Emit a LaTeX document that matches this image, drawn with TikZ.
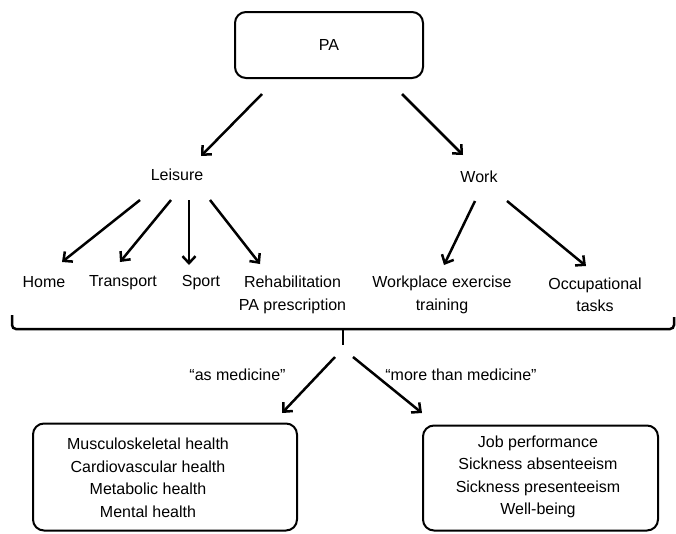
\documentclass[tikz,border=0pt]{standalone}
\usepackage{fontspec}
\setmainfont{Liberation Sans}
\usetikzlibrary{arrows.meta}
\begin{document}
\begin{tikzpicture}[x=1pt,y=-1pt,
  every node/.style={font=\fontsize{16}{22.5}\selectfont, inner sep=0pt},
  txt/.style={align=center},
  rbox/.style={draw, line width=2pt, rounded corners=11pt},
  arr/.style={line width=2.5pt, -{Straight Barb[length=7pt,width=13pt]}},
  bracestyle/.style={line width=2.5pt, rounded corners=4pt}]
\useasboundingbox (0,0) rectangle (676,533);
% top
\node[rbox, minimum width=188pt, minimum height=66pt] (pa) at (329,45) {PA};
\node[txt] (leisure) at (177,174.5) {Leisure};
\node[txt] (work) at (479,177) {Work};
% second row
\node[txt] (home) at (44,282) {Home};
\node[txt] (transport) at (123,282.5) {Transport};
\node[txt] (sport) at (201,282.5) {Sport};
\node[txt] (rehab) at (292.5,295) {Rehabilitation\\PA prescription};
\node[txt] (workplace) at (442,295) {Workplace exercise\\training};
\node[txt] (occ) at (595,295) {Occupational\\tasks};
% bottom boxes
\node[rbox, minimum width=264pt, minimum height=107pt] (lbox) at (165,477) {};
\node[txt] (ltext) at (148,478) {Musculoskeletal health\\Cardiovascular health\\Metabolic health\\Mental health};
\node[rbox, minimum width=235pt, minimum height=105pt] (rbox) at (540.5,478) {};
\node[txt] (rtext) at (538,477) {Job performance\\Sickness absenteeism\\Sickness presenteeism\\Well-being};
% labels
\node[txt] (asmed) at (237.5,375) {“as medicine”};
\node[txt] (moremed) at (461,375) {“more than medicine”};
% arrow end points
\coordinate (pa-l) at (262,94);   \coordinate (leisure-in) at (201,156);
\coordinate (pa-r) at (402,94);   \coordinate (work-in) at (463,155);
\coordinate (le-1) at (140,200);  \coordinate (home-in) at (62,262);
\coordinate (le-2) at (171,200);  \coordinate (transport-in) at (120,262);
\coordinate (le-3) at (189,200);  \coordinate (sport-in) at (189,265);
\coordinate (le-4) at (210,200);  \coordinate (rehab-in) at (260,264);
\coordinate (wo-1) at (475,201);  \coordinate (workplace-in) at (444,265);
\coordinate (wo-2) at (507,201);  \coordinate (occ-in) at (586,266);
\coordinate (tip) at (343,345);
\coordinate (tip-l) at (335,357); \coordinate (lbox-in) at (282,413);
\coordinate (tip-r) at (353,357); \coordinate (rbox-in) at (422,413);
% brace
\coordinate (bl) at (12,315);
\coordinate (br) at (674,317);
\draw[bracestyle] (bl) -- (12,329) -- (674,329) -- (br);
\draw[line width=2.5pt] (343,328) -- (tip);
% arrows
\draw[arr] (pa-l) -- (leisure-in);
\draw[arr] (pa-r) -- (work-in);
\draw[arr] (le-1) -- (home-in);
\draw[arr] (le-2) -- (transport-in);
\draw[arr] (le-3) -- (sport-in);
\draw[arr] (le-4) -- (rehab-in);
\draw[arr] (wo-1) -- (workplace-in);
\draw[arr] (wo-2) -- (occ-in);
\draw[arr] (tip-l) -- (lbox-in);
\draw[arr] (tip-r) -- (rbox-in);
\end{tikzpicture}
\end{document}
